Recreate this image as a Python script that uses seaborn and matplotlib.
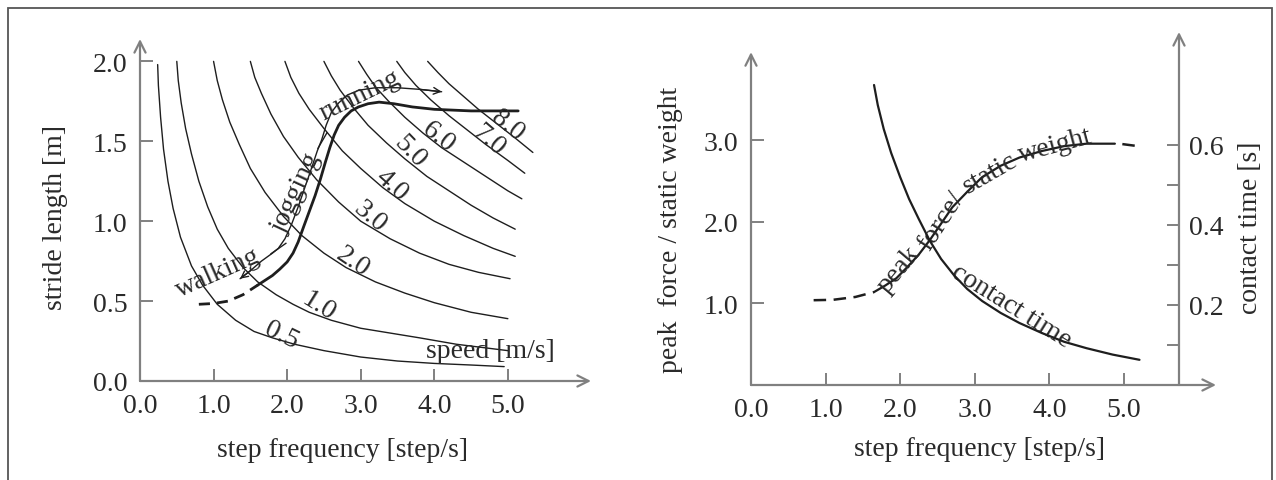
import matplotlib
matplotlib.use("Agg")
import matplotlib.pyplot as plt
import seaborn as sns
import pandas as pd

# iso-speed curves (step frequency [step/s], stride length [m])
speed_labels = ["0.5", "1.0", "2.0", "3.0", "4.0", "5.0", "6.0", "7.0", "8.0"]
iso_freq = [
    [0.24, 0.25, 0.28, 0.32, 0.38, 0.45, 0.55, 0.7, 0.85, 1.05, 1.3, 1.55, 1.8, 2.1, 2.5, 3.0, 3.5, 4.0, 4.5, 4.95],
    [0.5, 0.52, 0.56, 0.62, 0.7, 0.8, 0.92, 1.05, 1.2, 1.4, 1.6, 1.85, 2.08, 2.3, 2.6, 3.0, 3.4, 3.8, 4.3, 5.0],
    [1.0, 1.05, 1.12, 1.22, 1.35, 1.5, 1.7, 1.95, 2.2, 2.5, 2.8, 3.2, 3.6, 4.0, 4.5, 5.0],
    [1.5, 1.56, 1.65, 1.78, 1.95, 2.15, 2.4, 2.7, 3.0, 3.4, 3.8, 4.2, 4.6, 5.03],
    [1.97, 2.05, 2.16, 2.3, 2.5, 2.75, 3.0, 3.3, 3.6, 4.0, 4.4, 4.8, 5.1],
    [2.5, 2.6, 2.72, 2.9, 3.1, 3.35, 3.6, 3.9, 4.2, 4.5, 4.8, 5.1],
    [2.97, 3.08, 3.2, 3.38, 3.6, 3.85, 4.1, 4.4, 4.7, 5.0, 5.19],
    [3.49, 3.6, 3.75, 3.95, 4.2, 4.45, 4.7, 5.0, 5.23],
    [3.91, 4.05, 4.2, 4.4, 4.6, 4.85, 5.1, 5.34],
]
iso_stride = [
    [1.98, 1.85, 1.65, 1.45, 1.25, 1.08, 0.9, 0.72, 0.6, 0.48, 0.38, 0.31, 0.27, 0.23, 0.19, 0.15, 0.125, 0.11, 0.1, 0.09],
    [2.0, 1.88, 1.74, 1.58, 1.42, 1.25, 1.09, 0.95, 0.83, 0.71, 0.62, 0.54, 0.48, 0.43, 0.38, 0.33, 0.3, 0.27, 0.23, 0.19],
    [2.0, 1.88, 1.76, 1.62, 1.48, 1.33, 1.18, 1.03, 0.91, 0.8, 0.71, 0.62, 0.55, 0.49, 0.43, 0.39],
    [2.0, 1.9, 1.8, 1.67, 1.53, 1.4, 1.26, 1.12, 1.0, 0.89, 0.8, 0.73, 0.68, 0.64],
    [2.0, 1.9, 1.8, 1.7, 1.58, 1.44, 1.33, 1.21, 1.11, 1.0, 0.91, 0.83, 0.78],
    [2.0, 1.91, 1.82, 1.71, 1.6, 1.49, 1.39, 1.28, 1.19, 1.1, 1.02, 0.95],
    [2.0, 1.92, 1.84, 1.75, 1.65, 1.55, 1.46, 1.37, 1.28, 1.19, 1.14],
    [2.0, 1.93, 1.85, 1.76, 1.66, 1.57, 1.48, 1.38, 1.3],
    [2.0, 1.93, 1.86, 1.78, 1.7, 1.61, 1.52, 1.43],
]
# label anchor positions and angles (screen degrees)
speed_lbl_x = [1.92, 2.43, 2.89, 3.13, 3.42, 3.67, 4.06, 4.73, 5.0]
speed_lbl_y = [0.29, 0.47, 0.75, 1.03, 1.23, 1.44, 1.53, 1.51, 1.60]
speed_lbl_rot = [-26, -32, -34, -40, -42, -46, -38, -41, -39]

# gait path (dashed start, then solid)
gait_dash_f = [0.8, 1.0, 1.2, 1.4, 1.6]
gait_dash_s = [0.48, 0.485, 0.5, 0.54, 0.6]
gait_f = [1.6, 1.7, 1.8, 1.9, 2.0, 2.08, 2.15, 2.22, 2.3, 2.38, 2.45, 2.52, 2.58, 2.64,
          2.7, 2.78, 2.87, 2.97, 3.1, 3.25, 3.45, 3.7, 4.0, 4.5, 5.14]
gait_s = [0.6, 0.63, 0.66, 0.7, 0.745, 0.8, 0.87, 0.96, 1.06, 1.16, 1.26, 1.37, 1.46, 1.54,
          1.6, 1.65, 1.69, 1.715, 1.735, 1.745, 1.735, 1.715, 1.7, 1.69, 1.69]

# thin annotation line walking | jogging | running
mode_f = [1.36, 1.5, 1.65, 1.8, 1.88, 1.97, 2.06, 2.15, 2.24, 2.33, 2.41, 2.47, 2.53,
          2.6, 2.7, 2.82, 2.98, 3.2, 3.5, 3.8, 4.1]
mode_s = [0.64, 0.69, 0.75, 0.8, 0.83, 0.89, 0.98, 1.09, 1.21, 1.33, 1.44, 1.51, 1.6,
          1.68, 1.74, 1.79, 1.82, 1.835, 1.835, 1.825, 1.81]
mode_break_f = [1.88, 2.47]
mode_break_s = [0.83, 1.51]

# right panel: peak force / static weight and contact time
force_dash_f = [0.84, 1.1, 1.4, 1.65]
force_dash_v = [1.04, 1.045, 1.08, 1.14]
force_f = [1.65, 1.8, 1.95, 2.1, 2.25, 2.4, 2.55, 2.7, 2.9, 3.1, 3.35, 3.6, 3.9, 4.2, 4.5, 4.88]
force_v = [1.14, 1.22, 1.31, 1.45, 1.6, 1.78, 1.98, 2.18, 2.37, 2.55, 2.69, 2.79, 2.87, 2.93, 2.96, 2.96]
force_end_f = [4.98, 5.19]
force_end_v = [2.955, 2.93]
contact_f = [1.65, 1.7, 1.78, 1.88, 2.0, 2.12, 2.25, 2.4, 2.55, 2.72, 2.9, 3.1, 3.35,
             3.6, 3.9, 4.2, 4.5, 4.85, 5.21]
contact_t = [0.75, 0.7, 0.64, 0.58, 0.52, 0.465, 0.415, 0.36, 0.315, 0.275, 0.24, 0.21,
             0.18, 0.155, 0.13, 0.108, 0.092, 0.076, 0.063]

TXT = "#2a2a2a"
AXC = "#808080"
LINE = "#1e1e1e"
FS = 20

sns.set_style("white")
plt.rcParams["font.family"] = ["Liberation Serif", "DejaVu Serif"]

fig = plt.figure(figsize=(12.76, 4.81), dpi=100)
W, H = 1276, 481

# outer frame
fig.add_artist(plt.Rectangle((8 / W, -0.01), (1272 - 8) / W, 1.0 - 9 / H + 0.01,
                             transform=fig.transFigure, fill=False,
                             edgecolor="#555555", lw=1.3))


def arrow_axes(ax, x1, y1, x2, y2):
    ax.annotate("", xy=(x2, y2), xytext=(x1, y1), xycoords="axes fraction",
                textcoords="axes fraction", annotation_clip=False,
                arrowprops=dict(arrowstyle="->", color=AXC, lw=1.6,
                                shrinkA=0, shrinkB=0, mutation_scale=20))


def style_ticks(ax):
    for s in ax.spines.values():
        s.set_visible(False)
    ax.tick_params(direction="in", length=9, width=1.4, color=AXC,
                   labelsize=FS, labelcolor=TXT, pad=9,
                   bottom=True, left=True)


# ---------------- left panel ----------------
ax1 = fig.add_axes([140 / W, (H - 382) / H, 451 / W, 342 / H])
for fx, sy in zip(iso_freq, iso_stride):
    df = pd.DataFrame({"f": fx, "s": sy})
    sns.lineplot(data=df, x="f", y="s", ax=ax1, color=LINE, lw=1.0,
                 sort=False, estimator=None)
for lbl, x, y, r in zip(speed_labels, speed_lbl_x, speed_lbl_y, speed_lbl_rot):
    ax1.text(x, y, lbl, rotation=r, rotation_mode="anchor", ha="center",
             va="center", fontsize=FS, color=TXT)
ax1.text(4.76, 0.19, "speed [m/s]", ha="center", va="center",
         fontsize=FS, color=TXT)

sns.lineplot(x=gait_dash_f, y=gait_dash_s, ax=ax1, color=LINE, lw=2.0,
             sort=False, estimator=None, linestyle=(0, (4, 2.5)))
sns.lineplot(x=gait_f, y=gait_s, ax=ax1, color=LINE, lw=2.0,
             sort=False, estimator=None)

sns.lineplot(x=mode_f, y=mode_s, ax=ax1, color=LINE, lw=1.0,
             sort=False, estimator=None)
ax1.annotate("", xy=(mode_f[-1], mode_s[-1]), xytext=(mode_f[-2], mode_s[-2]),
             arrowprops=dict(arrowstyle="->", color=LINE, lw=1.0,
                             shrinkA=0, shrinkB=0, mutation_scale=12))
ax1.annotate("", xy=(mode_f[0], mode_s[0]), xytext=(mode_f[1], mode_s[1]),
             arrowprops=dict(arrowstyle="->", color=LINE, lw=1.0,
                             shrinkA=0, shrinkB=0, mutation_scale=12))
for bf, bs, ang in zip(mode_break_f, mode_break_s, [-55, -30]):
    ax1.plot(bf, bs, marker=(2, 0, ang), ms=14, mew=1.0, color=LINE)
ax1.text(1.06, 0.68, "walking", rotation=24, rotation_mode="anchor",
         ha="center", va="center", fontsize=FS, color=TXT)
ax1.text(2.12, 1.18, "jogging", rotation=65, rotation_mode="anchor",
         ha="center", va="center", fontsize=FS, color=TXT)
ax1.text(2.99, 1.79, "running", rotation=26, rotation_mode="anchor",
         ha="center", va="center", fontsize=FS, color=TXT)

ax1.set_xlim(0, 6.13)
ax1.set_ylim(0, 2.14)
ax1.set_xticks([0, 1, 2, 3, 4, 5])
ax1.set_xticklabels(["0.0", "1.0", "2.0", "3.0", "4.0", "5.0"])
ax1.set_yticks([0, 0.5, 1.0, 1.5, 2.0])
ax1.set_yticklabels(["0.0", "0.5", "1.0", "1.5", "2.0"])
style_ticks(ax1)
arrow_axes(ax1, 0, 0, 1, 0)
arrow_axes(ax1, 0, 0, 0, 1)
ax1.set_xlabel("step frequency [step/s]", fontsize=FS, color=TXT)
ax1.set_ylabel("stride length [m]", fontsize=FS, color=TXT)
ax1.xaxis.label.set_va("center")
ax1.yaxis.label.set_va("center")
ax1.xaxis.set_label_coords(0.45, -0.199)
ax1.yaxis.set_label_coords(-0.188, 0.48)

# ---------------- right panel ----------------
ax2 = fig.add_axes([751 / W, (H - 386) / H, 428 / W, 353 / H])
sns.lineplot(x=force_dash_f, y=force_dash_v, ax=ax2, color=LINE, lw=1.8,
             sort=False, estimator=None, linestyle=(0, (5, 3)))
sns.lineplot(x=force_f, y=force_v, ax=ax2, color=LINE, lw=1.6,
             sort=False, estimator=None)
sns.lineplot(x=force_end_f, y=force_end_v, ax=ax2, color=LINE, lw=1.8,
             sort=False, estimator=None, linestyle=(0, (5, 3)))
ax2.set_xlim(0, 5.74)
ax2.set_ylim(0, 4.33)
ax2.set_xticks([0, 1, 2, 3, 4, 5])
ax2.set_xticklabels(["0.0", "1.0", "2.0", "3.0", "4.0", "5.0"])
ax2.set_yticks([1, 2, 3])
ax2.set_yticklabels(["1.0", "2.0", "3.0"])
style_ticks(ax2)

for word, x, y, r in [("peak", 1.98, 1.42, 50), ("force/", 2.55, 2.02, 57),
                      ("static", 3.2, 2.6, 30), ("weight", 4.08, 2.94, 15)]:
    ax2.text(x, y, word, rotation=r, rotation_mode="anchor", ha="center",
             va="center", fontsize=FS, color=TXT)
ax2.text(3.49, 0.97, "contact time", rotation=-32, rotation_mode="anchor",
         ha="center", va="center", fontsize=FS, color=TXT)

ax2r = ax2.twinx()
sns.lineplot(x=contact_f, y=contact_t, ax=ax2r, color=LINE, lw=1.6,
             sort=False, estimator=None)
ax2r.set_ylim(0, 0.8825)
ax2r.set_yticks([0.2, 0.4, 0.6])
ax2r.set_yticklabels(["0.2", "0.4", "0.6"])
ax2r.set_yticks([0.1, 0.3, 0.5], minor=True)
for s in ax2r.spines.values():
    s.set_visible(False)
ax2r.tick_params(which="both", direction="in", length=9, width=1.4,
                 color=AXC, labelsize=FS, labelcolor=TXT, pad=7,
                 right=True, left=False)

arrow_axes(ax2, 0, 0, (1216 - 751) / 428, 0)
arrow_axes(ax2, 0, 0, 0, 0.943)
arrow_axes(ax2, 1, 0, 1, 1)

ax2.set_xlabel("step frequency [step/s]", fontsize=FS, color=TXT)
ax2.set_ylabel("peak  force / static weight", fontsize=FS, color=TXT)
ax2r.set_ylabel("contact time [s]", fontsize=FS, color=TXT)
ax2.xaxis.label.set_va("center")
ax2.yaxis.label.set_va("center")
ax2r.yaxis.label.set_va("center")
ax2.xaxis.set_label_coords(0.535, -0.181)
ax2.yaxis.set_label_coords(-0.187, 0.442)
ax2r.yaxis.set_label_coords(1.168, 0.448)

fig.savefig("out.png", dpi=100, facecolor="white")
